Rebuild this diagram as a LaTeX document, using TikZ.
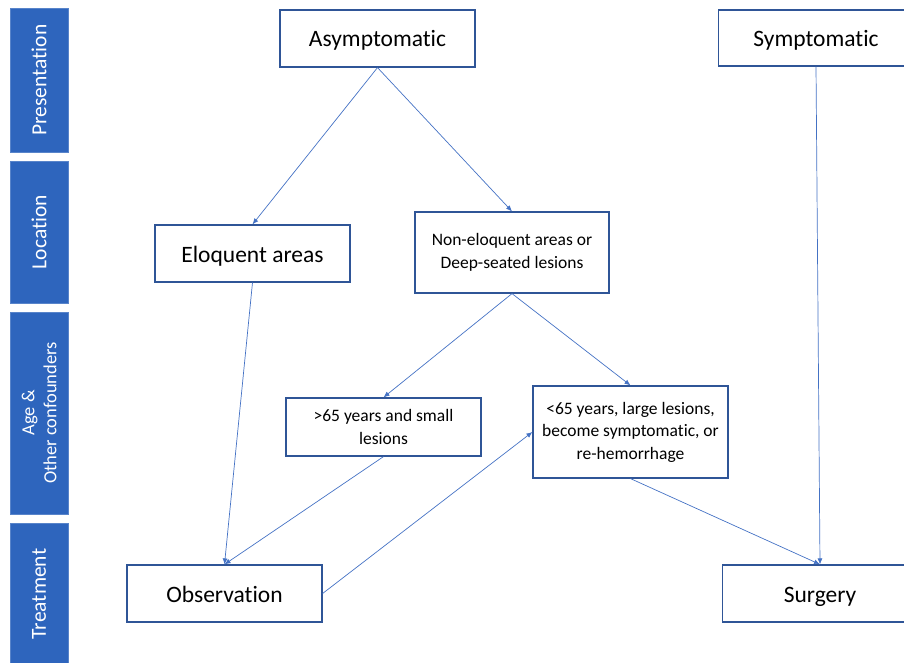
\documentclass[tikz,border=0pt]{standalone}
\usepackage{fontspec}
\setmainfont{Carlito}[Ligatures=NoCommon]
\usetikzlibrary{arrows.meta}
\definecolor{barblue}{HTML}{2E65BD}
\definecolor{boxblue}{HTML}{2F5597}
\definecolor{arrowblue}{HTML}{4472C4}

\begin{document}
\begin{tikzpicture}[x=1pt, y=-1pt,
    box/.style={draw=boxblue, line width=1.2pt, fill=white, minimum width=195pt, align=center, inner sep=2pt},
    bigbox/.style={box, minimum height=57pt, text height=17pt, text depth=0pt, font=\fontsize{23.5}{27}\selectfont},
    smallbox/.style={box, font=\fontsize{17.5}{22.5}\selectfont},
    bar/.style={fill=barblue, draw=barblue!80!white, line width=0.6pt, minimum width=58pt, inner sep=0pt},
    bartext/.style={rotate=90, text=white, align=center, font=\fontsize{21.5}{25}\selectfont},
    link/.style={draw=arrowblue, line width=0.7pt, -{Latex[length=6pt, width=5pt]}}]

        \useasboundingbox (0, 0) rectangle (904, 663);

        % blue bars on the left
        \node[bar, minimum height=144pt] (presbar) at (39, 80) {};
        \node[bartext] at (presbar) {Presentation};
        \node[bar, minimum height=142pt] (locbar) at (39, 232) {};
        \node[bartext] at (locbar) {Location};
        \node[bar, minimum height=202pt] (agebar) at (39, 413) {};
        \node[bartext, font=\fontsize{18.5}{22}\selectfont] at (agebar) {Age \&\\Other confounders};
        \node[bar, minimum height=142pt] (treatbar) at (39, 594) {};
        \node[bartext] at (treatbar) {Treatment};

        % boxes
        \node[bigbox] (asym) at (377.5, 38.5) {Asymptomatic};
        \node[bigbox, minimum height=56pt] (symp) at (816, 38) {Symptomatic};
        \node[bigbox] (eloq) at (252.5, 253.5) {Eloquent areas};
        \node[smallbox, minimum width=194pt, minimum height=81pt] (noneloq) at (512, 252.5) {Non-eloquent areas or\\Deep-seated lesions};
        \node[smallbox, minimum height=58pt] (over) at (383.5, 427) {>65 years and small\\lesions};
        \node[smallbox, minimum height=92pt] (under) at (630.5, 432) {<65 years, large lesions,\\become symptomatic, or\\re-hemorrhage};
        \node[bigbox] (obs) at (224.5, 593.5) {Observation};
        \node[bigbox] (surg) at (820, 593.5) {Surgery};

        % connectors
        \draw[link] (asym.south) -- (eloq.north);
        \draw[link] (asym.south) -- (noneloq.north);
        \draw[link] (symp.south) -- (surg.north);
        \draw[link] (eloq.south) -- (obs.north);
        \draw[link] (noneloq.south) -- (over.north);
        \draw[link] (noneloq.south) -- (under.north);
        \draw[link] (over.south) -- (obs.north);
        \draw[link] (obs.east) -- (under.west);
        \draw[link] (under.south) -- (surg.north);

    \end{tikzpicture}
\end{document}
